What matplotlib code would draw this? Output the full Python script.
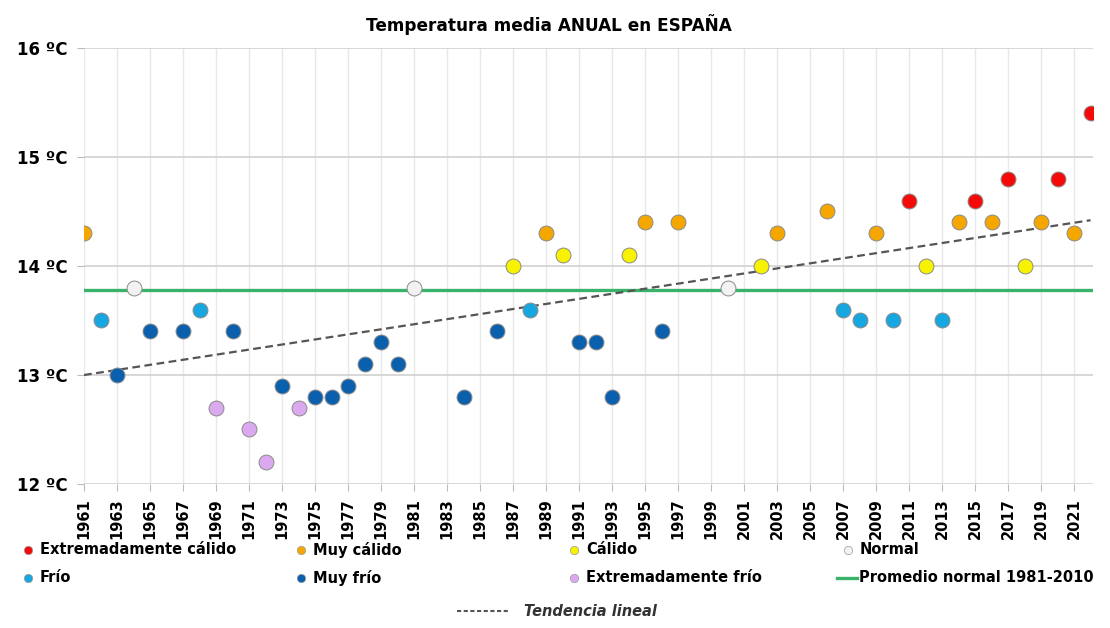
import matplotlib.pyplot as plt
from matplotlib.lines import Line2D

# categories of annual mean temperature (year, ºC)
ext_calido_years = [2011, 2015, 2017, 2020, 2022]
ext_calido_temps = [14.6, 14.6, 14.8, 14.8, 15.4]

muy_calido_years = [1961, 1989, 1995, 1997, 2003, 2006, 2009, 2014, 2016, 2019, 2021]
muy_calido_temps = [14.3, 14.3, 14.4, 14.4, 14.3, 14.5, 14.3, 14.4, 14.4, 14.4, 14.3]

calido_years = [1987, 1990, 1994, 2002, 2012, 2018]
calido_temps = [14.0, 14.1, 14.1, 14.0, 14.0, 14.0]

normal_years = [1964, 1981, 2000]
normal_temps = [13.8, 13.8, 13.8]

frio_years = [1962, 1968, 1988, 2007, 2008, 2010, 2013]
frio_temps = [13.5, 13.6, 13.6, 13.6, 13.5, 13.5, 13.5]

muy_frio_years = [1963, 1965, 1967, 1970, 1973, 1975, 1976, 1977, 1978, 1979,
                  1980, 1984, 1986, 1991, 1992, 1993, 1996]
muy_frio_temps = [13.0, 13.4, 13.4, 13.4, 12.9, 12.8, 12.8, 12.9, 13.1, 13.3,
                  13.1, 12.8, 13.4, 13.3, 13.3, 12.8, 13.4]

ext_frio_years = [1969, 1971, 1972, 1974]
ext_frio_temps = [12.7, 12.5, 12.2, 12.7]

promedio_years = [1961, 2022]
promedio_temps = [13.78, 13.78]

trend_years = [1961, 2022]
trend_temps = [13.0, 14.42]

y_ticks = [12, 13, 14, 15, 16]
x_ticks = list(range(1961, 2022, 2))

colors = {
    'ext_calido': '#f50a0a',
    'muy_calido': '#f5a700',
    'calido': '#f7f200',
    'normal': '#f2f2f2',
    'frio': '#16a6e0',
    'muy_frio': '#0b60ad',
    'ext_frio': '#dba9ef',
}

fig = plt.figure(figsize=(11.1, 6.28), dpi=100)
ax = fig.add_axes([0.0757, 0.2293, 0.909, 0.6943])

ax.plot(promedio_years, promedio_temps, color='#3ab36a', lw=2.4, zorder=2)
ax.plot(trend_years, trend_temps, color='#555555', lw=1.6, dashes=(3.5, 2), zorder=2)

series = [
    (ext_calido_years, ext_calido_temps, colors['ext_calido']),
    (muy_calido_years, muy_calido_temps, colors['muy_calido']),
    (calido_years, calido_temps, colors['calido']),
    (normal_years, normal_temps, colors['normal']),
    (frio_years, frio_temps, colors['frio']),
    (muy_frio_years, muy_frio_temps, colors['muy_frio']),
    (ext_frio_years, ext_frio_temps, colors['ext_frio']),
]
for xs, ys, c in series:
    ax.scatter(xs, ys, s=115, color=c, edgecolor='#8a8a8a', linewidth=0.7, zorder=3)

ax.set_xlim(1961, 2022.15)
ax.set_ylim(12, 16)
ax.set_yticks(y_ticks)
ax.set_yticklabels([f'{t} ºC' for t in y_ticks], fontsize=12, fontweight='bold')
ax.set_xticks(x_ticks)
ax.set_xticklabels([str(t) for t in x_ticks], rotation=90, fontsize=10.5, fontweight='bold')
ax.tick_params(axis='both', length=5, color='#bbbbbb', pad=5)
ax.tick_params(axis='y', pad=7)

for side in ax.spines:
    ax.spines[side].set_visible(False)
for yv in y_ticks:
    ax.axhline(yv, color='#d4d4d4', lw=1.3, zorder=1)
for xv in x_ticks:
    ax.axvline(xv, color='#e8e8e8', lw=1.0, zorder=0)

fig.text(0.4946, 1 - 25 / 628, 'Temperatura media ANUAL en ESPAÑA',
         ha='center', va='center', fontsize=12.2, fontweight='bold')

# legend, drawn by hand to get the even column spacing
legend_rows = [
    [('Extremadamente cálido', colors['ext_calido']), ('Muy cálido', colors['muy_calido']),
     ('Cálido', colors['calido']), ('Normal', colors['normal'])],
    [('Frío', colors['frio']), ('Muy frío', colors['muy_frio']),
     ('Extremadamente frío', colors['ext_frio']), ('Promedio normal 1981-2010', None)],
]
col_x = [28, 301, 574, 848]
row_y = [550, 578]
W, H = 1110, 628
for r, row in enumerate(legend_rows):
    y = 1 - row_y[r] / H
    for c, (label, col) in enumerate(row):
        x = col_x[c] / W
        if col is None:
            fig.add_artist(Line2D([837 / W, 857 / W], [y, y], color='#3ab36a', lw=2.4,
                                  transform=fig.transFigure))
            fig.text(859 / W, y, label, ha='left', va='center', fontsize=10.5, fontweight='bold')
        else:
            fig.add_artist(Line2D([x], [y], marker='o', markersize=6, color=col,
                                  markeredgecolor='#9a9a9a', markeredgewidth=0.5, linestyle='none',
                                  transform=fig.transFigure))
            fig.text(x + 12 / W, y, label, ha='left', va='center', fontsize=10.5, fontweight='bold')

y3 = 1 - 611 / H
fig.add_artist(Line2D([457 / W, 510 / W], [y3, y3], color='#555555', lw=1.5, dashes=(2, 1.2),
                      transform=fig.transFigure))
fig.text(524 / W, y3, 'Tendencia lineal', ha='left', va='center', fontsize=10.5,
         fontstyle='italic', fontweight='bold', color='#333333')

fig.savefig('out.png', dpi=100)
